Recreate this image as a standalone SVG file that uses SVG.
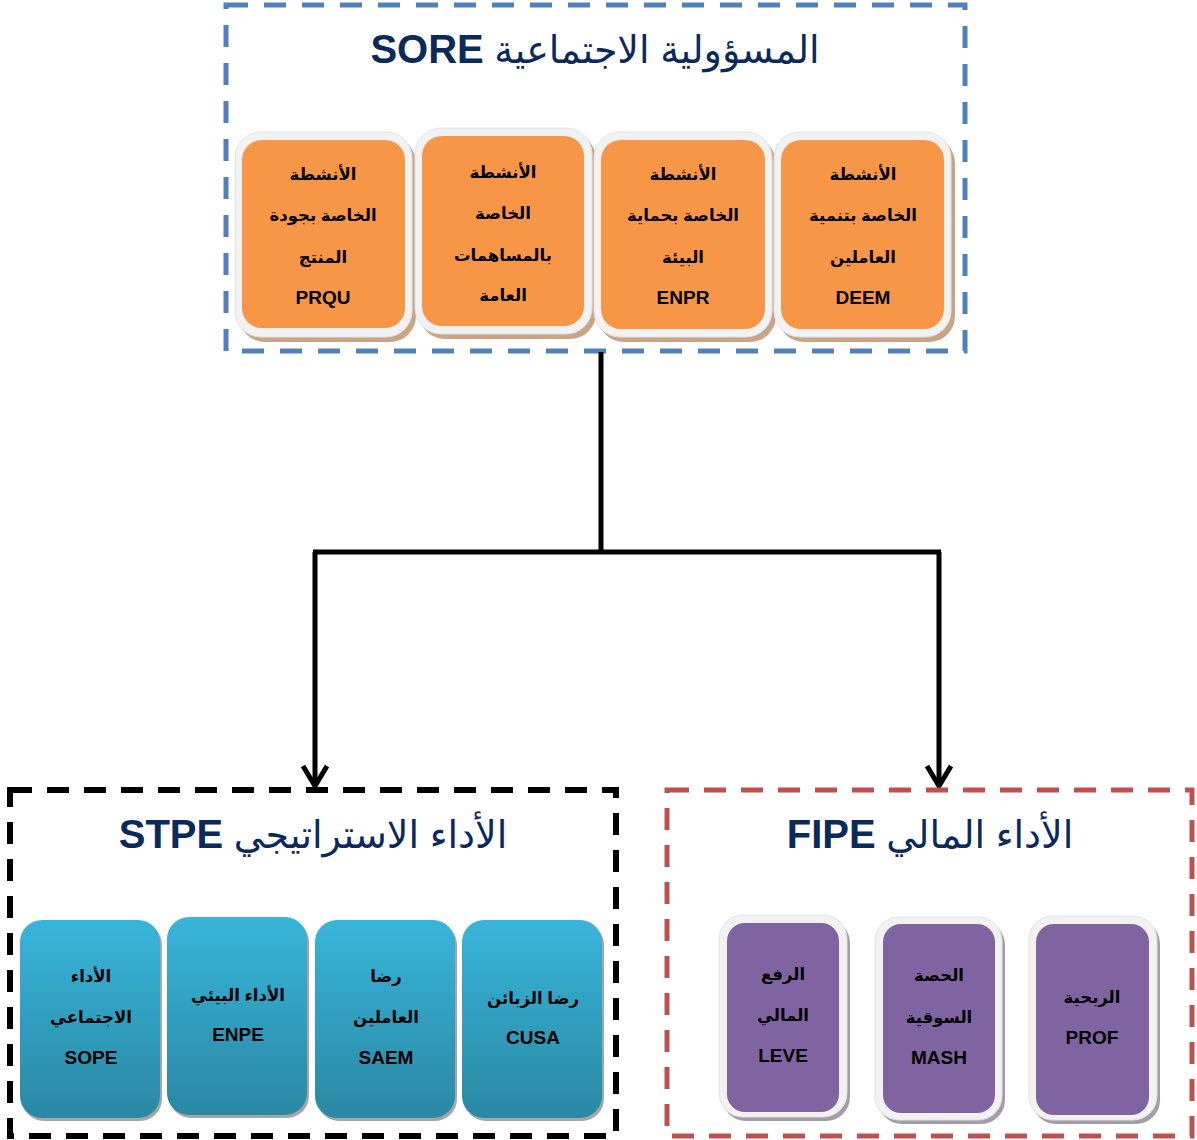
<svg xmlns="http://www.w3.org/2000/svg" width="1197" height="1140" viewBox="0 0 1197 1140">
<defs>
<style>
.title{font-family:"Liberation Sans","DejaVu Sans",sans-serif;font-size:38px;fill:#0b2a5c}
.lat{font-family:"Liberation Sans","DejaVu Sans",sans-serif;font-weight:bold;font-size:40px}
.ct{font-family:"Liberation Sans","DejaVu Sans",sans-serif;font-weight:bold;font-size:16.5px;fill:#000;text-anchor:middle}
.cl{font-size:19px}
.frame{fill:#f2f2f2;stroke:#e2e2e2;stroke-width:1}
.tan{fill:#c9a487}
.orange{fill:#f79646}
.blue{fill:url(#gb)}
.bshadow{fill:#a6a6a6}
.purple{fill:#8064a2}
.pshadow{fill:#a39ca9}
.conn{stroke:#000;stroke-width:5;fill:none}
</style>
<linearGradient id="gb" x1="0" y1="0" x2="0" y2="1">
<stop offset="0" stop-color="#38b5da"/>
<stop offset="1" stop-color="#2a88a3"/>
</linearGradient>
<marker id="arr" markerUnits="userSpaceOnUse" viewBox="-24 -15 28 30" markerWidth="28" markerHeight="30" refX="0" refY="0" orient="auto">
<path d="M-20,-12 L0,0 L-20,12" fill="none" stroke="#000" stroke-width="5"/>
</marker>
</defs>
<rect width="1197" height="1140" fill="#fff"/>

<g id="sore">
<rect x="226" y="5" width="739" height="346" fill="none" stroke="#4f81bd" stroke-width="5" stroke-dasharray="22 16"/>
<text class="title" x="595" y="63" text-anchor="middle" direction="rtl">المسؤولية الاجتماعية <tspan class="lat">SORE</tspan></text>
</g>

<g id="prqu">
<rect class="tan" x="239" y="137" width="177" height="205" rx="26"/>
<rect class="frame" x="235" y="132" width="177" height="205" rx="26"/>
<rect class="orange" x="242" y="140" width="163" height="188" rx="20"/>
<text class="ct" x="323" y="180">الأنشطة</text>
<text class="ct" x="323" y="221">الخاصة بجودة</text>
<text class="ct" x="323" y="263">المنتج</text>
<text class="ct cl" x="323" y="304">PRQU</text>
</g>
<g id="gen">
<rect class="tan" x="419" y="133" width="177" height="206" rx="26"/>
<rect class="frame" x="415" y="128" width="177" height="206" rx="26"/>
<rect class="orange" x="422" y="136" width="162" height="190" rx="20"/>
<text class="ct" x="503" y="178">الأنشطة</text>
<text class="ct" x="503" y="219">الخاصة</text>
<text class="ct" x="503" y="261">بالمساهمات</text>
<text class="ct" x="503" y="301">العامة</text>
</g>
<g id="enpr">
<rect class="tan" x="598" y="137" width="178" height="205" rx="26"/>
<rect class="frame" x="594" y="132" width="178" height="205" rx="26"/>
<rect class="orange" x="601" y="140" width="164" height="189" rx="20"/>
<text class="ct" x="683" y="180">الأنشطة</text>
<text class="ct" x="683" y="221">الخاصة بحماية</text>
<text class="ct" x="683" y="263">البيئة</text>
<text class="ct cl" x="683" y="304">ENPR</text>
</g>
<g id="deem">
<rect class="tan" x="778" y="137" width="177" height="205" rx="26"/>
<rect class="frame" x="774" y="132" width="177" height="205" rx="26"/>
<rect class="orange" x="781" y="140" width="163" height="189" rx="20"/>
<text class="ct" x="863" y="180">الأنشطة</text>
<text class="ct" x="863" y="221">الخاصة بتنمية</text>
<text class="ct" x="863" y="263">العاملين</text>
<text class="ct cl" x="863" y="304">DEEM</text>
</g>

<g id="connectors">
<path class="conn" d="M601,352 V552"/>
<path class="conn" d="M313,552 H941"/>
<path class="conn" d="M315,552 V786" marker-end="url(#arr)"/>
<path class="conn" d="M939,552 V786" marker-end="url(#arr)"/>
</g>

<g id="stpe">
<rect x="10" y="790" width="606" height="346" fill="none" stroke="#000" stroke-width="6" stroke-dasharray="22 15"/>
<text class="title" x="313" y="848" text-anchor="middle" direction="rtl">الأداء الاستراتيجي  <tspan class="lat">STPE</tspan></text>
</g>
<g id="sope">
<rect class="bshadow" x="22" y="923" width="140" height="198" rx="22"/>
<rect class="blue" x="20" y="920" width="140" height="198" rx="22"/>
<text class="ct" x="91" y="982">الأداء</text>
<text class="ct" x="91" y="1023">الاجتماعي</text>
<text class="ct cl" x="91" y="1064">SOPE</text>
</g>
<g id="enpe">
<rect class="bshadow" x="169" y="920" width="140" height="198" rx="22"/>
<rect class="blue" x="167" y="917" width="140" height="198" rx="22"/>
<text class="ct" x="238" y="1001">الأداء البيئي</text>
<text class="ct cl" x="238" y="1041">ENPE</text>
</g>
<g id="saem">
<rect class="bshadow" x="317" y="923" width="140" height="198" rx="22"/>
<rect class="blue" x="315" y="920" width="140" height="198" rx="22"/>
<text class="ct" x="386" y="982">رضا</text>
<text class="ct" x="386" y="1023">العاملين</text>
<text class="ct cl" x="386" y="1064">SAEM</text>
</g>
<g id="cusa">
<rect class="bshadow" x="464" y="923" width="140" height="198" rx="22"/>
<rect class="blue" x="462" y="920" width="140" height="198" rx="22"/>
<text class="ct" x="533" y="1004">رضا الزبائن</text>
<text class="ct cl" x="533" y="1044">CUSA</text>
</g>

<g id="fipe">
<rect x="667" y="790" width="525" height="346" fill="none" stroke="#c0504d" stroke-width="5" stroke-dasharray="22 15"/>
<text class="title" x="930" y="848" text-anchor="middle" direction="rtl">الأداء المالي <tspan class="lat">FIPE</tspan></text>
</g>
<g id="leve">
<rect class="pshadow" x="722" y="919" width="128" height="202" rx="24"/>
<rect class="frame" x="719" y="915" width="128" height="202" rx="24"/>
<rect class="purple" x="727" y="923" width="112" height="189" rx="18"/>
<text class="ct" x="783" y="980">الرفع</text>
<text class="ct" x="783" y="1021">المالي</text>
<text class="ct cl" x="783" y="1062">LEVE</text>
</g>
<g id="mash">
<rect class="pshadow" x="878" y="921" width="127" height="203" rx="24"/>
<rect class="frame" x="875" y="917" width="127" height="203" rx="24"/>
<rect class="purple" x="883" y="924" width="112" height="189" rx="18"/>
<text class="ct" x="939" y="981">الحصة</text>
<text class="ct" x="939" y="1023">السوقية</text>
<text class="ct cl" x="939" y="1064">MASH</text>
</g>
<g id="prof">
<rect class="pshadow" x="1032" y="920" width="128" height="204" rx="24"/>
<rect class="frame" x="1029" y="916" width="128" height="204" rx="24"/>
<rect class="purple" x="1036" y="924" width="113" height="191" rx="18"/>
<text class="ct" x="1092" y="1003">الربحية</text>
<text class="ct cl" x="1092" y="1044">PROF</text>
</g>
</svg>
